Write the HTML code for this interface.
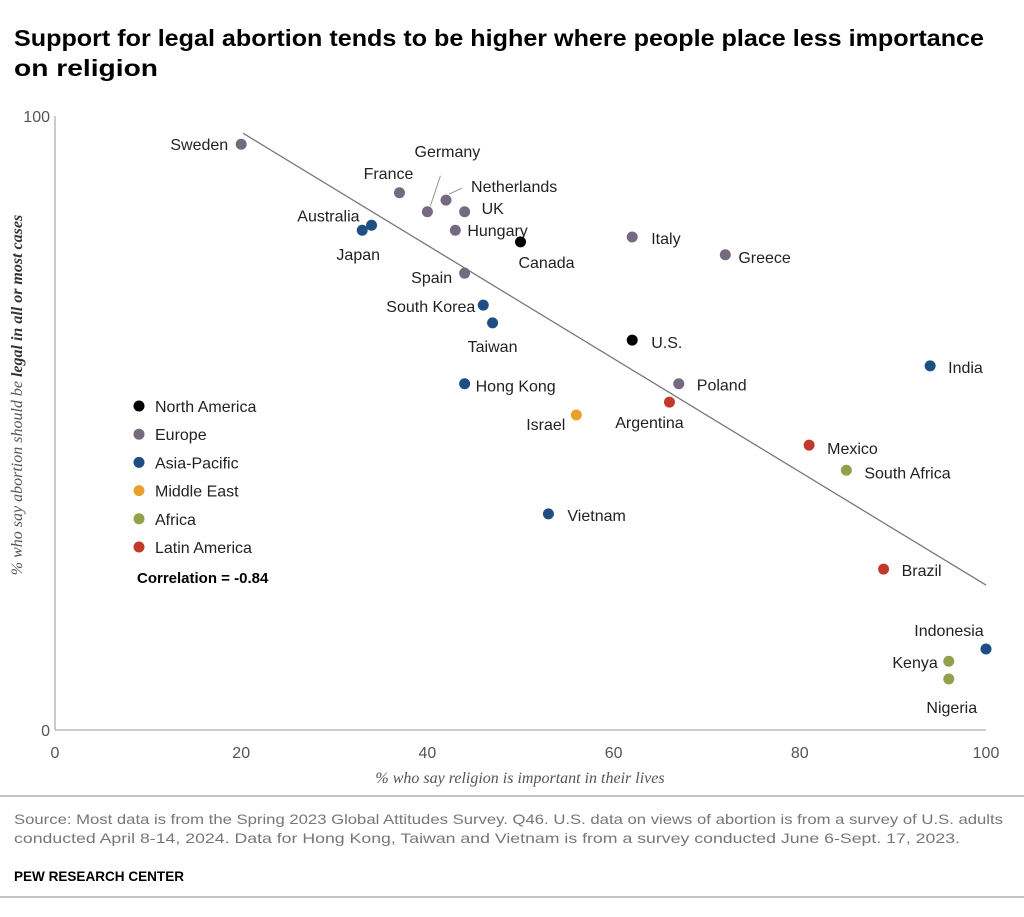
<!DOCTYPE html>
<html><head><meta charset="utf-8"><style>
body{margin:0;background:#fff;width:1024px;height:912px;overflow:hidden;font-family:"Liberation Sans",sans-serif}
svg text{font-family:"Liberation Sans",sans-serif}
</style></head><body>
<svg id="chart" width="1024" height="912" xmlns="http://www.w3.org/2000/svg">
<text x="14" y="46" font-size="23.5" font-weight="bold" fill="#000" textLength="970" lengthAdjust="spacingAndGlyphs">Support for legal abortion tends to be higher where people place less importance</text>
<text x="14" y="76" font-size="23.5" font-weight="bold" fill="#000" textLength="144" lengthAdjust="spacingAndGlyphs">on religion</text>
<g id="plot"></g>
<text transform="translate(22,395) rotate(-90)" text-anchor="middle" font-size="16" font-style="italic" fill="#555" style="font-family:'Liberation Serif',serif">% who say abortion should be <tspan font-weight="bold" fill="#333">legal in all or most cases</tspan></text>
<text x="520" y="783" text-anchor="middle" font-size="16" font-style="italic" fill="#555" style="font-family:'Liberation Serif',serif">% who say religion is important in their lives</text>
<line x1="0" x2="1024" y1="796" y2="796" stroke="#888" stroke-width="1"/>
<text font-size="14" fill="#777"><tspan x="14" y="824" textLength="989" lengthAdjust="spacingAndGlyphs">Source: Most data is from the Spring 2023 Global Attitudes Survey. Q46. U.S. data on views of abortion is from a survey of U.S. adults</tspan><tspan x="14" y="843" textLength="946" lengthAdjust="spacingAndGlyphs">conducted April 8-14, 2024. Data for Hong Kong, Taiwan and Vietnam is from a survey conducted June 6-Sept. 17, 2023.</tspan></text>
<text x="14" y="881" font-size="14" font-weight="bold" fill="#000" textLength="170" lengthAdjust="spacingAndGlyphs">PEW RESEARCH CENTER</text>
<line x1="0" x2="1024" y1="897" y2="897" stroke="#888" stroke-width="1"/>
</svg>
<script>
const countries=["Sweden","France","Germany","Netherlands","UK","Australia","Japan","Hungary","Canada","Italy","Greece","Spain","South Korea","Taiwan","U.S.","India","Hong Kong","Poland","Argentina","Israel","Mexico","South Africa","Vietnam","Brazil","Indonesia","Kenya","Nigeria"];
const religion=[20,37,40,42,44,34,33,43,50,62,72,44,46,47,62,94,44,67,66,56,81,85,53,89,100,96,96];
const legal=[95.4,87.5,84.4,86.3,84.4,82.2,81.4,81.4,79.5,80.3,77.4,74.4,69.2,66.3,63.5,59.3,56.4,56.4,53.4,51.3,46.4,42.3,35.2,26.2,13.2,11.2,8.3];
const regions=["Europe","Europe","Europe","Europe","Europe","Asia-Pacific","Asia-Pacific","Europe","North America","Europe","Europe","Europe","Asia-Pacific","Asia-Pacific","North America","Asia-Pacific","Asia-Pacific","Europe","Latin America","Middle East","Latin America","Africa","Asia-Pacific","Latin America","Asia-Pacific","Africa","Africa"];
const legendRegions=["North America","Europe","Asia-Pacific","Middle East","Africa","Latin America"];
const regionColors=["#000000","#756a80","#1f4e85","#eaa12b","#95a04b","#c0392b"];
const xTicks=[0,20,40,60,80,100];
const yTicks=[0,100];
const trendX=[20.2,100];
const trendY=[97.2,23.6];
// label placement (styling, not data): dx, dy, anchor
const labelPos=[[-13,0,"end"],[-11,-20,"middle"],[20,-61,"middle"],[25,-14,"start"],[17,-4,"start"],[-12,-10,"end"],[-4,24,"middle"],[12,0,"start"],[26,20,"middle"],[19,1,"start"],[13,2,"start"],[-33,4,"middle"],[-8,1,"end"],[0,23,"middle"],[19,2,"start"],[18,1,"start"],[11,2,"start"],[18,1,"start"],[-20,20,"middle"],[-11,9,"end"],[18,3,"start"],[18,2,"start"],[19,1,"start"],[18,1,"start"],[-37,-19,"middle"],[-11,1,"end"],[3,28,"middle"]];
const X0=55,X1=986,Y0=730,Y1=116;
const sx=v=>X0+(X1-X0)*v/100;
const sy=v=>Y0-(Y0-Y1)*v/100;
const NS="http://www.w3.org/2000/svg";
const plot=document.getElementById("plot");
function mk(tag,attrs,parent){const e=document.createElementNS(NS,tag);for(const k in attrs)e.setAttribute(k,attrs[k]);(parent||plot).appendChild(e);return e;}
let e;
e=mk("line",{x1:X0,x2:X1,y1:Y0,y2:Y0,stroke:"#999","stroke-width":1});


e=mk("line",{x1:X0,x2:X0,y1:Y1,y2:Y0,stroke:"#999","stroke-width":1});


xTicks.forEach(t=>{
 e=mk("text",{x:sx(t),y:Y0+28,"text-anchor":"middle","font-size":16,fill:"#555"});e.textContent=t;
 
 
});
yTicks.forEach(t=>{
 e=mk("text",{x:X0-5,y:sy(t)+6,"text-anchor":"end","font-size":16,fill:"#555"});e.textContent=t;
 
 
});
e=mk("line",{x1:sx(trendX[0]),y1:sy(trendY[0]),x2:sx(trendX[1]),y2:sy(trendY[1]),stroke:"#777","stroke-width":1.3});


countries.forEach((c,i)=>{
 const px=sx(religion[i]),py=sy(legal[i]);
 const col=regionColors[legendRegions.indexOf(regions[i])];
 const lp=labelPos[i];
 if(c==="Germany"||c==="Netherlands"){
  e=mk("line",{x1:px+3,y1:py-6,x2:px+(c==="Germany"?13:16),y2:py+(c==="Germany"?-36:-12),stroke:"#999","stroke-width":1});
  
  
 }
 e=mk("circle",{cx:px,cy:py,r:5.5,fill:col});
 
 
 e=mk("text",{x:px+lp[0],y:py+lp[1]+6,"text-anchor":lp[2],"font-size":16,fill:"#222"});e.textContent=c;
 
 
});
legendRegions.forEach((r,i)=>{
 const y=406+i*28.2;
 e=mk("circle",{cx:139,cy:y,r:5.5,fill:regionColors[i]});
 
 
 e=mk("text",{x:155,y:y+6,"font-size":16,fill:"#222"});e.textContent=r;
 
 
});
e=mk("text",{x:137,y:583,"font-size":15,"font-weight":"bold",fill:"#000"});e.textContent="Correlation = -0.84";


</script>
</body></html>
